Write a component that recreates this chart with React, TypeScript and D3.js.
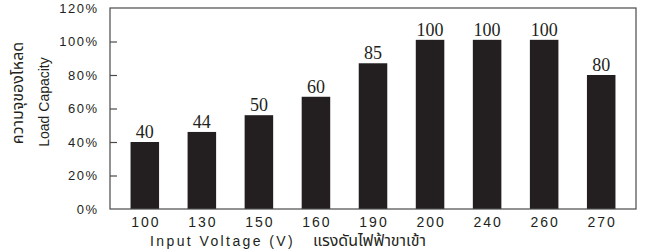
import React, { useEffect, useRef } from 'react';
import * as d3 from 'd3';

// input voltage categories (x axis)
const voltages = ["100", "130", "150", "160", "190", "200", "240", "260", "270"];
// bar heights as drawn in the picture (% of load)
const capacity = [40, 46, 56, 67, 87, 101, 101, 101, 80];
// numbers printed above the bars
const capacityLabels = ["40", "44", "50", "60", "85", "100", "100", "100", "80"];
const yTicks = [0, 20, 40, 60, 80, 100, 120];

const INK = "#231f20";
const SANS = "'Liberation Sans', Arial, sans-serif";
const THAI = "'Noto Sans Thai', 'Noto Serif Thai', Loma, Garuda, 'Noto Sans', sans-serif";

const LoadChart = () => {
    const ref = useRef<SVGSVGElement>(null);

    useEffect(() => {
        const svg = d3.select(ref.current);
        svg.selectAll("*").remove();

        const W = 649, H = 252;
        const margin = { top: 8, right: 13, bottom: 43, left: 110 };
        const x0 = margin.left, x1 = W - margin.right;
        const yTop = margin.top, yBot = H - margin.bottom;

        const x = d3.scaleBand()
            .domain(voltages)
            .range([x0, x1])
            .paddingInner(0.5)
            .paddingOuter(0.36);

        const y = d3.scaleLinear()
            .domain([0, 120])
            .range([yBot, yTop]);

        // bars
        svg.append("g")
            .selectAll("rect")
            .data(capacity)
            .join("rect")
            .attr("x", (d, i) => x(voltages[i]))
            .attr("y", d => y(d))
            .attr("width", x.bandwidth())
            .attr("height", d => y(0) - y(d))
            .attr("fill", INK);

        // value labels
        svg.append("g")
            .selectAll("text")
            .data(capacity)
            .join("text")
            .attr("x", (d, i) => x(voltages[i]) + x.bandwidth() / 2)
            .attr("y", d => y(d) - 4)
            .attr("text-anchor", "middle")
            .attr("font-family", "'Liberation Serif', 'Times New Roman', serif")
            .attr("font-size", 18)
            .attr("fill", INK)
            .text((d, i) => capacityLabels[i]);

        // frame
        svg.append("rect")
            .attr("x", x0)
            .attr("y", yTop)
            .attr("width", x1 - x0)
            .attr("height", yBot - yTop)
            .attr("fill", "none")
            .attr("stroke", "#4a4a4a")
            .attr("stroke-width", 1.2);

        // y axis ticks pointing inward
        const yAxis = d3.axisRight(y)
            .tickValues(yTicks.slice(1, -1))
            .tickSize(7)
            .tickFormat(() => "");
        svg.append("g")
            .attr("transform", `translate(${x0},0)`)
            .call(yAxis)
            .call(g => g.select(".domain").remove())
            .call(g => g.selectAll("line").attr("stroke", "#4a4a4a").attr("stroke-width", 1.2));

        // y tick labels
        svg.append("g")
            .selectAll("text")
            .data(yTicks)
            .join("text")
            .attr("x", 98.5)
            .attr("y", d => y(d))
            .attr("dy", "0.36em")
            .attr("text-anchor", "end")
            .attr("font-family", SANS)
            .attr("font-size", 13)
            .attr("letter-spacing", 1.5)
            .attr("fill", INK)
            .text(d => `${d}%`);

        // x tick labels
        const xAxis = d3.axisBottom(x).tickSize(0).tickPadding(0);
        svg.append("g")
            .attr("transform", `translate(0,${yBot})`)
            .call(xAxis)
            .call(g => g.select(".domain").remove())
            .call(g => g.selectAll("text")
                .attr("y", 18)
                .attr("dy", 0)
                .attr("dx", 1)
                .attr("font-family", SANS)
                .attr("font-size", 14)
                .attr("letter-spacing", 2)
                .attr("fill", INK));

        // x axis titles
        svg.append("text")
            .attr("x", 150)
            .attr("y", 246)
            .attr("font-family", SANS)
            .attr("font-size", 14)
            .attr("letter-spacing", 2.4)
            .attr("fill", INK)
            .text("Input Voltage (V)");

        svg.append("text")
            .attr("x", 313)
            .attr("y", 246)
            .attr("font-family", THAI)
            .attr("font-size", 16)
            .attr("fill", INK)
            .text("แรงดันไฟฟ้าขาเข้า");

        // y axis titles
        svg.append("text")
            .attr("transform", "translate(23,93) rotate(-90)")
            .attr("text-anchor", "middle")
            .attr("font-family", THAI)
            .attr("font-size", 16)
            .attr("fill", INK)
            .text("ความจุของโหลด");

        svg.append("text")
            .attr("transform", "translate(49,102) rotate(-90)")
            .attr("text-anchor", "middle")
            .attr("font-family", "'Liberation Sans Narrow', 'Arial Narrow', " + SANS)
            .attr("font-size", 14)
            .attr("fill", INK)
            .text("Load Capacity");
    }, []);

    return <svg ref={ref} width="649" height="252" style={{ display: "block" }}></svg>;
};

export default function App() {
    return (
        <div style={{ position: "fixed", left: 0, top: 0, background: "#fff" }}>
            <LoadChart />
        </div>
    );
}
